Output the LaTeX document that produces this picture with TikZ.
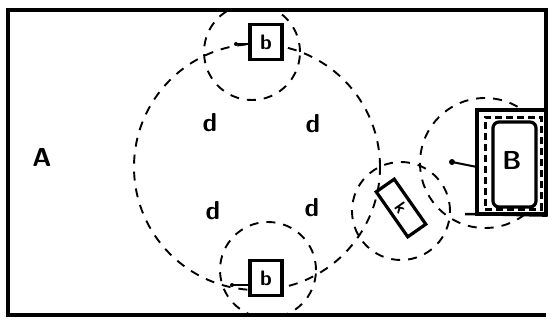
\documentclass[tikz,border=0pt]{standalone}
\begin{document}
\begin{tikzpicture}[x=1pt,y=-1pt,
  zone/.style={circle, draw, line width=1.9pt, dash pattern=on 9pt off 8pt, inner sep=0pt},
  beacon/.style={draw, line width=3.2pt, fill=white, minimum width=32pt, minimum height=35pt, inner sep=0pt, font=\bfseries\sffamily\fontsize{21}{21}\selectfont},
  lbl/.style={font=\bfseries\sffamily\fontsize{26}{26}\selectfont},
  lead/.style={line width=2pt}]
\useasboundingbox (0,0) rectangle (549,322);
\fill[white] (0,0) rectangle (549,322);
% zones
\begin{scope}
\clip (8,10) rectangle (546,315);
\node[zone, minimum size=246pt] (zA) at (257,167) {};
\node[zone, minimum size=96pt] (zb1) at (252,52) {};
\node[zone, minimum size=96pt] (zb2) at (268,270) {};
\node[zone, minimum size=98pt] (zk) at (401,211) {};
\node[zone, minimum size=130pt] (zB) at (485,163) {};
\end{scope}
% frame
\draw[line width=3.2pt] (546,110) -- (546,10) -- (8,10) -- (8,315) -- (546,315);
% base B
\node[draw, line width=3.2pt, fill=white, minimum width=69pt, minimum height=104pt, inner sep=0pt] (base) at (511.5,162) {};
\node[draw, line width=3pt, dash pattern=on 7pt off 4pt, minimum width=56pt, minimum height=92pt, inner sep=0pt] (wall) at (513,163) {};
\node[draw, line width=3.2pt, rounded corners=6pt, minimum width=43pt, minimum height=85pt, inner sep=0pt] (inner) at (514.5,164.5) {};
\node[lbl] (Blbl) at (512,160) {B};
\coordinate (ledge) at (465,214);
\draw[line width=2.5pt] (ledge) -- (base.south east);
% beacons
\node[beacon] (b1) at (266,42) {b};
\node[beacon] (b2) at (266,278) {b};
\node[beacon, rotate=-55, minimum width=55pt, minimum height=22pt, font=\bfseries\sffamily\fontsize{17}{17}\selectfont] (k) at (401,208) {k};
% labels
\node[lbl] (A) at (42,157) {A};
\node[lbl] (d1) at (210,123) {d};
\node[lbl] (d2) at (313,124) {d};
\node[lbl] (d3) at (213,211) {d};
\node[lbl] (d4) at (312,208) {d};
% leads
\coordinate (l1) at (236,44);
\coordinate (l2) at (232,285);
\coordinate (l3) at (452,162);
\fill (l1) circle (2pt); \draw[lead] (l1) -- (l1 -| b1.west);
\fill (l2) circle (2pt); \draw[lead] (l2) -- (l2 -| b2.west);
\fill (l3) circle (3pt); \draw[lead] (l3) -- (477,167);
\end{tikzpicture}
\end{document}
